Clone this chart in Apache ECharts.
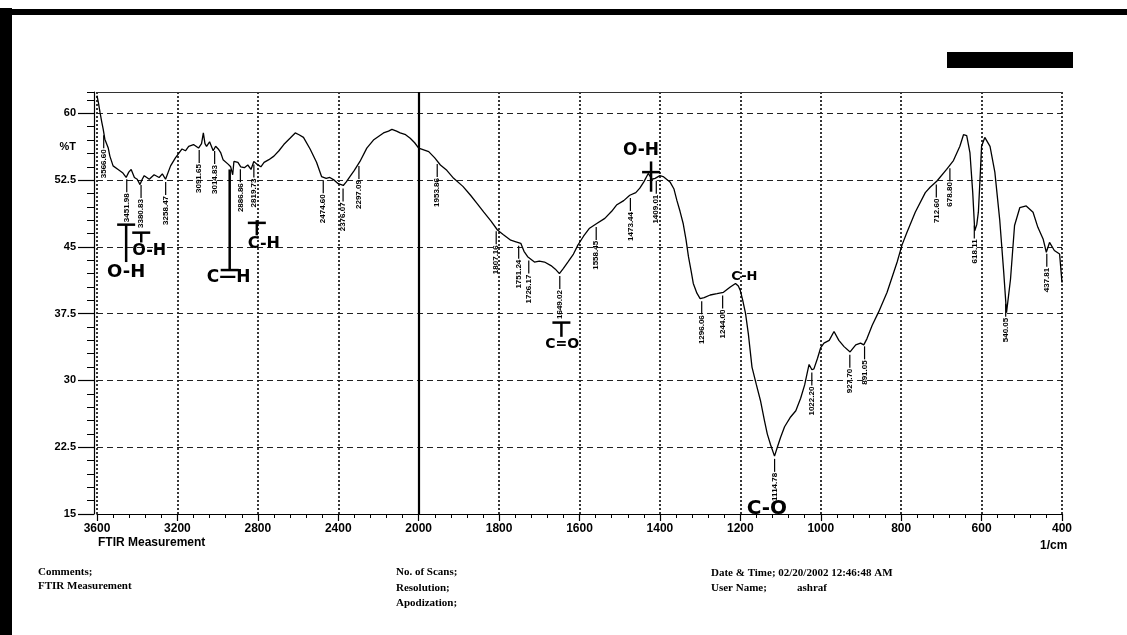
<!DOCTYPE html>
<html lang="en">
<head>
<meta charset="UTF-8">
<script src="https://cdn.jsdelivr.net/npm/echarts@6/dist/echarts.min.js"></script>
<style>
  html,body{margin:0;padding:0;background:#fff}
  #chart{width:1127px;height:635px}
</style>
<title>FTIR Measurement</title>
</head>
<body>
<div id="chart"></div>
<script>
// spectrum: wavenumber (1/cm) and %T
var wavenumbers = [3600, 3593, 3585, 3576, 3569, 3561, 3544, 3536, 3520, 3495, 3471, 3455, 3442, 3430, 3414, 3400, 3386, 3375, 3365, 3340,
    3316, 3291, 3275, 3259, 3234, 3210, 3177, 3160, 3144, 3120, 3095, 3080, 3071, 3063, 3055, 3040, 3022, 3010, 2997, 2985,
    2973, 2948, 2935, 2925, 2919, 2899, 2885, 2867, 2850, 2834, 2820, 2805, 2785, 2769, 2745, 2720, 2695, 2671, 2640, 2614,
    2595, 2573, 2540, 2508, 2483, 2460, 2442, 2420, 2400, 2375, 2360, 2342, 2320, 2292, 2258, 2225, 2200, 2175, 2150, 2133,
    2110, 2092, 2065, 2042, 2020, 2000, 1975, 1960, 1946, 1930, 1913, 1890, 1871, 1855, 1838, 1820, 1804, 1790, 1771, 1760,
    1746, 1738, 1729, 1712, 1700, 1687, 1671, 1660, 1650, 1640, 1629, 1615, 1604, 1590, 1575, 1558, 1537, 1520, 1508, 1490,
    1475, 1460, 1450, 1440, 1429, 1420, 1412, 1400, 1392, 1375, 1365, 1358, 1350, 1342, 1335, 1329, 1322, 1317, 1308, 1300,
    1290, 1275, 1258, 1242, 1225, 1212, 1205, 1200, 1194, 1187, 1180, 1171, 1160, 1150, 1140, 1133, 1125, 1115, 1108, 1100,
    1090, 1075, 1062, 1050, 1040, 1033, 1029, 1022, 1017, 1008, 1000, 992, 979, 967, 955, 942, 927, 913, 901, 893,
    885, 872, 856, 835, 810, 798, 786, 765, 740, 728, 711, 687, 670, 654, 645, 637, 629, 622, 617, 612,
    608, 604, 600, 592, 579, 567, 555, 545, 538, 533, 528, 518, 505, 489, 472, 460, 447, 439, 431, 419,
    406, 400];
var transmittance = [62.0, 61.2, 60.1, 59.0, 58.2, 57.1, 56.1, 55.2, 54.1, 53.7, 53.3, 52.8, 53.4, 53.7, 52.8, 52.6, 52.0, 52.6, 53.0, 52.6,
    53.1, 52.8, 53.2, 52.6, 54.1, 55.0, 56.0, 55.8, 56.3, 56.5, 56.1, 56.6, 57.8, 56.6, 56.3, 56.8, 55.8, 56.3, 56.0, 55.6,
    54.8, 54.3, 54.0, 53.1, 54.6, 54.5, 54.0, 53.9, 54.2, 53.7, 54.6, 54.3, 54.0, 54.5, 54.8, 55.2, 55.8, 56.5, 57.2, 57.8,
    57.6, 57.3, 56.0, 54.5, 52.9, 52.7, 52.8, 52.5, 52.1, 51.9, 52.3, 52.9, 53.6, 54.6, 56.1, 57.0, 57.4, 57.8, 58.0, 58.2,
    58.0, 57.8, 57.6, 57.2, 56.7, 56.1, 55.7, 55.0, 54.2, 53.6, 52.7, 51.8, 50.8, 49.9, 48.9, 47.9, 46.9, 46.4, 45.75, 45.6,
    45.4, 44.5, 43.9, 43.3, 43.4, 43.3, 42.9, 42.5, 42.0, 42.6, 43.3, 44.2, 45.2, 46.2, 47.1, 47.6, 48.2, 49.0, 49.7, 50.2,
    50.8, 51.1, 51.6, 52.3, 53.25, 52.6, 52.7, 53.0, 52.9, 52.3, 51.5, 50.25, 49.0, 47.6, 45.8, 43.9, 42.2, 40.9, 39.8, 39.2,
    39.3, 39.6, 39.75, 39.9, 40.5, 40.9, 40.6, 40.1, 39.0, 37.5, 35.2, 31.5, 29.5, 27.75, 25.5, 24.0, 22.8, 21.5, 22.5, 23.6,
    24.8, 25.9, 26.6, 28.0, 29.5, 31.0, 31.8, 31.2, 31.3, 32.5, 33.7, 34.2, 34.5, 35.5, 34.5, 33.8, 33.2, 34.0, 34.2, 34.0,
    34.7, 36.2, 37.7, 39.9, 43.3, 45.2, 46.6, 48.9, 51.1, 51.7, 52.4, 53.7, 54.7, 56.3, 57.6, 57.5, 55.6, 51.1, 46.8, 47.5,
    48.9, 52.5, 56.3, 57.3, 56.3, 53.4, 48.1, 42.2, 37.6, 39.5, 41.4, 47.4, 49.4, 49.6, 48.9, 47.2, 45.9, 44.4, 45.5, 44.6,
    44.2, 41.0];

// printed peak picks
var peakWn = [3566.60, 3451.98, 3380.83, 3258.47, 3091.65, 3014.83, 2886.86, 2819.73, 2474.60, 2376.07,
    2297.09, 1953.86, 1807.16, 1751.24, 1726.17, 1649.02, 1558.45, 1473.44, 1409.01, 1296.06,
    1244.00, 1114.78, 1022.20, 927.70, 891.05, 712.60, 678.80, 618.11, 540.05, 437.81];

// hand written notes on the scan
var noteText = ['O-H', 'O-H', 'C\u2014H', 'C-H', 'O-H', 'C-H', 'C=O', 'C-O'];
var noteWn = [3455, 3340, 2945, 2770, 1447, 1190, 1643, 1134];
var noteT = [42.2, 44.6, 41.6, 45.3, 55.8, 41.7, 34.1, 15.6];

// hand drawn stems with a cross bar
var stemWn = [3455, 3380, 2940, 2805, 1422, 1645];
var stemFrom = [47.5, 46.6, 53.7, 48.0, 54.6, 36.5];
var stemTo = [43.3, 45.5, 42.4, 46.3, 51.2, 34.9];
var stemBar = [47.5, 46.6, 42.4, 47.7, 53.4, 36.5];

var yTicks = [15, 22.5, 30, 37.5, 45, 52.5, 60];

// the x scale is doubled below 2000 1/cm, so plot on a folded axis
function toU(w) { return w > 2000 ? 2000 + (w - 2000) / 2 : w; }
function fromU(u) { return u > 2000 ? 2000 + (u - 2000) * 2 : u; }
function curveAt(w) {
    for (var i = 1; i < wavenumbers.length; i++) {
        if (wavenumbers[i] <= w) {
            var a = wavenumbers[i - 1], b = wavenumbers[i];
            var f = (a - w) / (a - b);
            return transmittance[i - 1] + f * (transmittance[i] - transmittance[i - 1]);
        }
    }
    return transmittance[transmittance.length - 1];
}

var spectrum = wavenumbers.map(function (w, i) { return [toU(w), transmittance[i]]; });
var peaks = peakWn.map(function (w) { return [toU(w), curveAt(w)]; });
var notes = noteWn.map(function (w, i) { return [toU(w), noteT[i]]; });
var stems = stemWn.map(function (w, i) { return [toU(w), stemFrom[i], stemTo[i], stemBar[i]]; });

var noteSizes = [18, 16, 17, 16, 17, 13, 14, 20];

var ec = echarts.init(document.getElementById('chart'));
var sans = '"Liberation Sans", Arial, sans-serif';
var serif = '"Liberation Serif", "Times New Roman", serif';

var option = {
    backgroundColor: '#fff',
    animation: false,
    grid: {left: 97, right: 65, top: 92, bottom: 121, outerBoundsMode: 'none'},
    xAxis: [{
        type: 'value', position: 'bottom', min: 400, max: 2800, interval: 200, inverse: true,
        axisLine: {lineStyle: {color: '#000', width: 1.2}},
        axisTick: {length: 7, lineStyle: {color: '#000', width: 1.2}},
        minorTick: {show: true, splitNumber: 5, length: 4, lineStyle: {color: '#000', width: 1}},
        axisLabel: {
            margin: 9, color: '#000', fontSize: 12, fontWeight: 'bold', fontFamily: sans,
            formatter: function (u) { return String(fromU(u)); }
        },
        splitLine: {show: true, lineStyle: {type: [2, 2], width: 1.8, color: '#222'}}
    }, {
        type: 'value', position: 'top', min: 400, max: 2800, inverse: true,
        axisLine: {show: true, lineStyle: {color: '#333', width: 1}},
        axisTick: {show: false}, axisLabel: {show: false}, splitLine: {show: false}
    }],
    yAxis: [{
        type: 'value', position: 'left', min: 15, max: 62.4, interval: 7.5, offset: 3,
        axisLine: {show: true, lineStyle: {color: '#000', width: 1.2}},
        axisTick: {show: true, length: 16, customValues: yTicks, lineStyle: {color: '#000', width: 1.2}},
        axisLabel: {
            customValues: yTicks.concat([56.25]), margin: 18, color: '#000',
            fontSize: 11, fontWeight: 'bold', fontFamily: sans,
            formatter: function (v) { return v === 56.25 ? '%T' : String(v); }
        },
        splitLine: {show: true, lineStyle: {type: [6, 4], width: 1, color: '#222'}}
    }, {
        type: 'value', position: 'left', min: 15, max: 62.4, interval: 1.5, offset: 3,
        axisLine: {show: false},
        axisTick: {show: true, length: 7, lineStyle: {color: '#000', width: 1}},
        axisLabel: {show: false}, splitLine: {show: false}
    }],
    series: [{
        type: 'line', data: spectrum, symbol: 'none', silent: true,
        lineStyle: {color: '#000', width: 1.3},
        markLine: {
            symbol: 'none', silent: true, label: {show: false},
            lineStyle: {type: 'solid', color: '#000', width: 2.2},
            data: [{xAxis: 2000}]
        }
    }, {
        type: 'custom', data: peaks, silent: true,
        renderItem: function (params, api) {
            var p = api.coord([api.value(0), api.value(1)]);
            return {
                type: 'group',
                children: [{
                    type: 'line',
                    shape: {x1: p[0], y1: p[1] + 3, x2: p[0], y2: p[1] + 16},
                    style: {stroke: '#000', lineWidth: 1.2}
                }, {
                    type: 'text', x: p[0], y: p[1] + 17, rotation: Math.PI / 2,
                    style: {
                        text: peakWn[params.dataIndex].toFixed(2), align: 'right', verticalAlign: 'middle',
                        font: 'bold 8px "Liberation Sans Narrow", "Liberation Sans", sans-serif', fill: '#000'
                    }
                }]
            };
        }
    }, {
        type: 'custom', data: stems, silent: true,
        renderItem: function (params, api) {
            var a = api.coord([api.value(0), api.value(1)]);
            var b = api.coord([api.value(0), api.value(2)]);
            var c = api.coord([api.value(0), api.value(3)]);
            return {
                type: 'group',
                children: [{
                    type: 'line', shape: {x1: a[0], y1: a[1], x2: b[0], y2: b[1]},
                    style: {stroke: '#000', lineWidth: 2.5}
                }, {
                    type: 'line', shape: {x1: c[0] - 9, y1: c[1], x2: c[0] + 9, y2: c[1]},
                    style: {stroke: '#000', lineWidth: 2.5}
                }]
            };
        }
    }, {
        type: 'custom', data: notes, silent: true,
        renderItem: function (params, api) {
            var p = api.coord([api.value(0), api.value(1)]);
            return {
                type: 'text', x: p[0], y: p[1],
                style: {
                    text: noteText[params.dataIndex], align: 'center', verticalAlign: 'middle',
                    font: 'bold ' + noteSizes[params.dataIndex] + 'px "DejaVu Sans", sans-serif', fill: '#000'
                }
            };
        }
    }],
    graphic: [
        {type: 'rect', left: 0, top: 8, shape: {width: 12, height: 627}, style: {fill: '#000'}},
        {type: 'rect', left: 0, top: 9, shape: {width: 1127, height: 6}, style: {fill: '#000'}},
        {type: 'rect', left: 947, top: 52, shape: {width: 126, height: 16}, style: {fill: '#000'}},
        {type: 'text', left: 98, top: 537, style: {text: 'FTIR Measurement', font: 'bold 12px ' + sans, fill: '#000'}},
        {type: 'text', left: 1040, top: 540, style: {text: '1/cm', font: 'bold 12px ' + sans, fill: '#000'}},
        {type: 'text', left: 38, top: 567, style: {text: 'Comments;', font: 'bold 11px ' + serif, fill: '#000'}},
        {type: 'text', left: 38, top: 581, style: {text: 'FTIR Measurement', font: 'bold 11px ' + serif, fill: '#000'}},
        {type: 'text', left: 396, top: 567, style: {text: 'No. of Scans;', font: 'bold 11px ' + serif, fill: '#000'}},
        {type: 'text', left: 396, top: 583, style: {text: 'Resolution;', font: 'bold 11px ' + serif, fill: '#000'}},
        {type: 'text', left: 396, top: 598, style: {text: 'Apodization;', font: 'bold 11px ' + serif, fill: '#000'}},
        {type: 'text', left: 711, top: 568, style: {text: 'Date & Time; 02/20/2002 12:46:48 AM', font: 'bold 11px ' + serif, fill: '#000'}},
        {type: 'text', left: 711, top: 583, style: {text: 'User Name;', font: 'bold 11px ' + serif, fill: '#000'}},
        {type: 'text', left: 797, top: 583, style: {text: 'ashraf', font: 'bold 11px ' + serif, fill: '#000'}}
    ]
};
ec.setOption(option);
</script>
</body>
</html>
